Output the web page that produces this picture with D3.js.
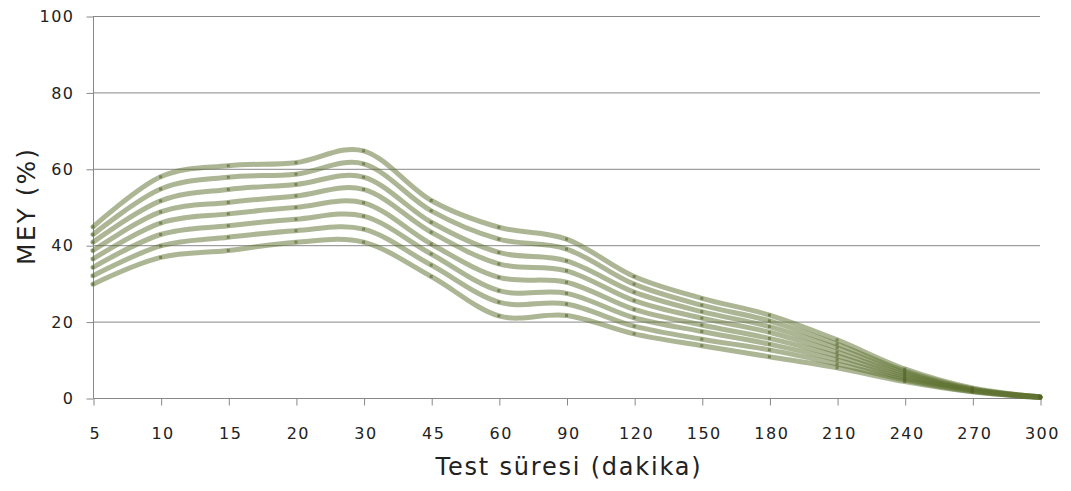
<!DOCTYPE html>
<html>
<head>
<meta charset="utf-8">
<script src="https://cdn.jsdelivr.net/npm/d3@7"></script>
<style>
  body { margin: 0; background: #fff; }
</style>
</head>
<body>
<svg width="1071" height="491"></svg>
<script>
// test times (category axis, evenly spaced)
const times = ['5', '10', '15', '20', '30', '45', '60', '90', '120', '150', '180', '210', '240', '270', '300'];
const yTicks = [0, 20, 40, 60, 80, 100];

// eight curves, top to bottom
const s1 = [44.8, 57.9, 60.8, 61.6, 64.7, 51.7, 44.7, 41.6, 31.8, 26.1, 21.7, 15.2, 7.6, 2.6, 0.3];
const s2 = [42.8, 54.7, 57.8, 58.6, 61.3, 49.0, 41.6, 39.0, 29.8, 24.3, 20.2, 14.1, 7.1, 2.4, 0.3];
const s3 = [40.8, 51.6, 54.6, 55.9, 57.8, 46.0, 38.1, 35.9, 27.7, 22.6, 18.7, 13.1, 6.6, 2.3, 0.3];
const s4 = [38.6, 48.7, 51.2, 52.9, 54.6, 43.4, 35.1, 33.3, 25.5, 20.9, 17.2, 12.0, 6.1, 2.1, 0.2];
const s5 = [36.4, 45.8, 48.2, 49.9, 51.1, 40.3, 31.6, 30.3, 23.2, 19.1, 15.6, 11.0, 5.6, 2.0, 0.2];
const s6 = [34.2, 42.8, 45.1, 46.8, 47.6, 37.7, 28.1, 27.4, 21.0, 17.4, 14.1, 10.0, 5.1, 1.9, 0.2];
const s7 = [32.0, 39.8, 42.1, 43.8, 44.2, 34.8, 25.1, 24.6, 18.8, 15.4, 12.6, 8.9, 4.7, 1.7, 0.1];
const s8 = [29.8, 36.8, 38.6, 40.8, 40.8, 31.8, 21.5, 21.6, 16.8, 13.7, 10.8, 7.9, 4.3, 1.6, 0.1];
const series = [s1, s2, s3, s4, s5, s6, s7, s8];

const fontFamily = '"DejaVu Sans", Verdana, sans-serif';
const svg = d3.select('svg').attr('font-family', fontFamily);
const margin = { top: 16, right: 31, bottom: 93, left: 93 };
const width = +svg.attr('width');
const height = +svg.attr('height');
const innerWidth = width - margin.left - margin.right;
const innerHeight = height - margin.top - margin.bottom;

const g = svg.append('g')
    .attr('transform', `translate(${margin.left},${margin.top})`);

const xScale = d3.scalePoint()
    .domain(times)
    .range([0, innerWidth]);

const yScale = d3.scaleLinear()
    .domain([0, 100])
    .range([innerHeight, 0]);

// gridlines
g.append('g')
    .selectAll('line')
    .data(yTicks.slice(1))
    .enter()
    .append('line')
    .attr('x1', 0)
    .attr('x2', innerWidth)
    .attr('y1', d => yScale(d) + 0.5)
    .attr('y2', d => yScale(d) + 0.5)
    .attr('stroke', '#888')
    .attr('stroke-width', 1);

// y axis
const yAxisG = g.append('g')
    .attr('transform', 'translate(0.5,0.5)')
    .call(d3.axisLeft(yScale).tickValues(yTicks).tickSize(7).tickPadding(12))
    .attr('font-family', fontFamily)
    .attr('font-size', 16);
yAxisG.select('.domain').attr('stroke', '#888').attr('d', `M0,${innerHeight}V0`);
yAxisG.selectAll('.tick line').attr('stroke', '#888');
yAxisG.selectAll('text')
    .attr('fill', '#222')
    .style('letter-spacing', '1.5px');

// x axis
const xAxisG = g.append('g')
    .attr('transform', `translate(0.5,${innerHeight + 0.5})`)
    .call(d3.axisBottom(xScale).tickSize(7).tickPadding(22))
    .attr('font-family', fontFamily)
    .attr('font-size', 16);
xAxisG.select('.domain').attr('stroke', '#888').attr('d', `M0,0H${innerWidth}`);
xAxisG.selectAll('.tick line').attr('stroke', '#888');
xAxisG.selectAll('text')
    .attr('fill', '#222')
    .attr('dx', '0.09em')
    .style('letter-spacing', '1.5px');

// curves
const line = d3.line()
    .x((d, i) => xScale(times[i]))
    .y(d => yScale(d))
    .curve(d3.curveCardinal.tension(0));

g.append('g')
    .selectAll('path')
    .data(series)
    .enter()
    .append('path')
    .attr('d', line)
    .attr('fill', 'none')
    .attr('stroke', 'rgb(95,115,50)')
    .attr('stroke-opacity', 0.52)
    .attr('stroke-width', 5)
    .attr('stroke-linecap', 'round');

// markers
series.forEach(s => {
    g.append('g')
        .selectAll('rect')
        .data(s)
        .enter()
        .append('rect')
        .attr('x', (d, i) => xScale(times[i]) - 1.5)
        .attr('y', d => yScale(d) - 1.5)
        .attr('width', 3)
        .attr('height', 3)
        .attr('fill', 'rgb(85,100,45)')
        .attr('fill-opacity', 0.6);
});

// axis titles
g.append('text')
    .attr('x', 476)
    .attr('y', innerHeight + 77)
    .attr('fill', '#222')
    .style('text-anchor', 'middle')
    .style('font-size', '24px')
    .style('letter-spacing', '1.8px')
    .text('Test süresi (dakika)');

g.append('text')
    .attr('transform', 'rotate(-90)')
    .attr('x', -190)
    .attr('y', -58)
    .attr('fill', '#222')
    .style('text-anchor', 'middle')
    .style('font-size', '25px')
    .style('letter-spacing', '2px')
    .text('MEY (%)');
</script>
</body>
</html>
